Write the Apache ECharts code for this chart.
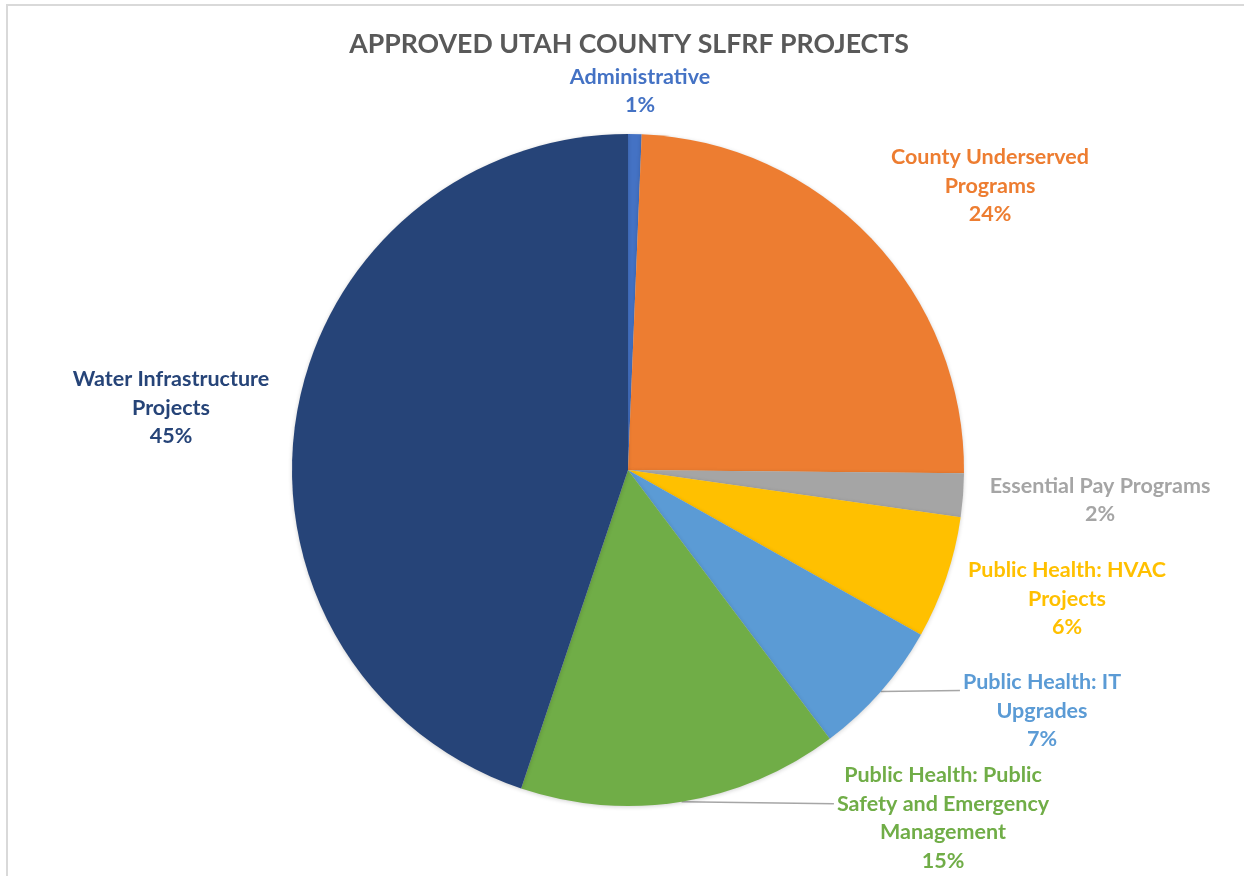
<!DOCTYPE html>
<html>
<head>
<meta charset="utf-8">
<script src="https://cdn.jsdelivr.net/npm/echarts@6/dist/echarts.min.js"></script>
<style>
html,body{margin:0;padding:0;background:#fff;}
#chart{width:1244px;height:876px;}
</style>
</head>
<body>
<div id="chart"></div>
<script>
// ---- data ----
const categories = [
  'Administrative',
  'County Underserved Programs',
  'Essential Pay Programs',
  'Public Health: HVAC Projects',
  'Public Health: IT Upgrades',
  'Public Health: Public Safety and Emergency Management',
  'Water Infrastructure Projects'
];
const labelTexts = [
  'Administrative',
  'County Underserved\nPrograms',
  'Essential Pay Programs',
  'Public Health: HVAC\nProjects',
  'Public Health: IT\nUpgrades',
  'Public Health: Public\nSafety and Emergency\nManagement',
  'Water Infrastructure\nProjects'
];
const shares = [0.65, 24.5, 2.1, 5.9, 6.6, 15.4, 44.85];
const colors = ['#4472C4', '#ED7D31', '#A5A5A5', '#FFC000', '#5B9BD5', '#70AD47', '#264478'];

// ---- layout (label centres) ----
const labelPos = [
  [640, 91], [990, 186], [1100, 500], [1067, 599], [1042, 711], [943, 818], [171, 408]
];
const withLine = [false, false, false, false, true, true, false];
const LH = 28.5;

const chart = echarts.init(document.getElementById('chart'), null, {renderer: 'canvas'});
const option = {
  backgroundColor: '#fff',
  animation: false,
  title: {
    text: 'APPROVED UTAH COUNTY SLFRF PROJECTS',
    left: 624, top: 26, textAlign: 'center',
    textStyle: {fontFamily: 'Lato', fontWeight: 'bold', fontSize: 26.7, color: '#595959'}
  },
  graphic: [{
    type: 'rect', shape: {x: 7, y: 5, width: 1300, height: 900},
    style: {fill: 'none', stroke: '#D9D9D9', lineWidth: 2}, silent: true, z: -1
  }],
  series: [{
    type: 'pie',
    center: [628, 470],
    radius: [0, 336],
    startAngle: 90,
    clockwise: true,
    percentPrecision: 0,
    avoidLabelOverlap: false,
    itemStyle: {shadowBlur: 4, shadowColor: 'rgba(0,0,0,0.18)', shadowOffsetY: 1},
    label: {
      show: true,
      position: 'outside',
      fontFamily: 'Lato', fontWeight: 'bold', fontSize: 21.5, lineHeight: LH,
      align: 'center',
      formatter: p => labelTexts[p.dataIndex] + '\n' + p.percent + '%'
    },
    labelLine: {show: true, length: 10, length2: 10, lineStyle: {color: '#A6A6A6', width: 1.5}},
    labelLayout: function (params) {
      const i = params.dataIndex;
      const res = {x: labelPos[i][0], y: labelPos[i][1], align: 'center', verticalAlign: 'middle'};
      if (withLine[i] && params.labelLinePoints) {
        const p0 = params.labelLinePoints[0];
        const left = labelPos[i][0] - params.labelRect.width / 2 - 3;
        const nLines = labelTexts[i].split('\n').length + 1;
        const top = labelPos[i][1] - nLines * LH / 2;
        const endY = i === 4 ? p0[1] - 1 : top + LH * 1.5;
        res.labelLinePoints = [p0, [(p0[0] + left) / 2, (p0[1] + endY) / 2], [left, endY]];
      }
      return res;
    },
    data: categories.map((c, i) => ({
      name: c,
      value: shares[i],
      itemStyle: {color: colors[i]},
      label: {color: colors[i]},
      labelLine: {show: withLine[i]}
    }))
  }]
};
chart.setOption(option);
</script>
</body>
</html>
